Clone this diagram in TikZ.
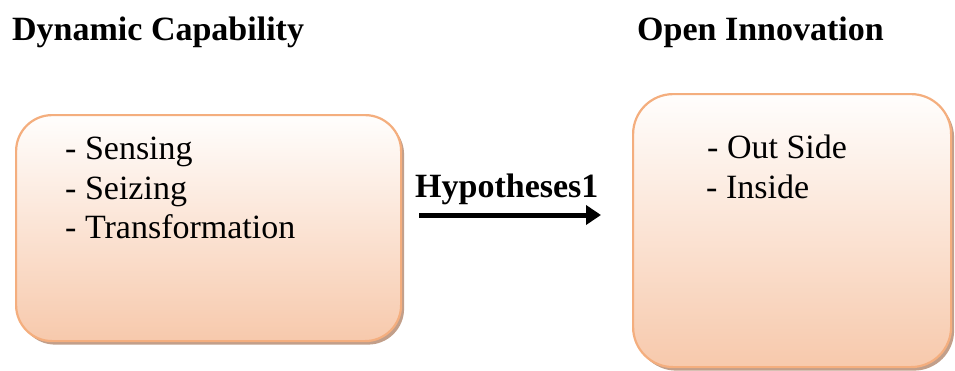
\documentclass[tikz,border=0pt]{standalone}
\usepackage{fontspec}
\setmainfont{Liberation Serif}
\usetikzlibrary{shadows,arrows.meta}
\definecolor{boxline}{HTML}{F4AE7E}
\definecolor{boxtop}{HTML}{FFFEFD}
\definecolor{boxbot}{HTML}{F7C9AC}
\definecolor{boxshadow}{HTML}{C29F8A}
\tikzset{
  capbox/.style={draw=boxline, line width=2.2pt, rounded corners=36pt,
    top color=boxtop, bottom color=boxbot, inner sep=0pt, anchor=north west,
    drop shadow={shadow xshift=3pt, shadow yshift=-3.5pt, fill=boxshadow, opacity=1}},
  item/.style={anchor=base west, inner sep=0pt, font=\fontsize{34}{40}\selectfont},
  title/.style={anchor=base west, inner sep=0pt, font=\fontsize{34}{40}\selectfont\bfseries},
  bigarrow/.style={line width=5pt, -{Triangle[length=15pt,width=19pt]}}
}
\begin{document}
\begin{tikzpicture}
\useasboundingbox (0pt,0pt) rectangle (955pt,-370pt);
\node[title] (t1) at (12pt,-40pt) {Dynamic Capability};
\node[title] (t2) at (637pt,-40pt) {Open Innovation};
\node[capbox, minimum width=385pt, minimum height=226pt] (dc) at (15pt,-114pt) {};
\node[capbox, minimum width=318pt, minimum height=273pt, rounded corners=40pt] (oi) at (632pt,-93pt) {};
\node[item] (d1) at (65pt,-159pt) {- Sensing};
\node[item] (d2) at (65pt,-199pt) {- Seizing};
\node[item] (d3) at (65pt,-238pt) {- Transformation};
\node[item] (o1) at (707pt,-158pt) {- Out Side};
\node[item] (o2) at (706pt,-198pt) {- Inside};
\node[title] (h) at (415pt,-197pt) {Hypotheses1};
\coordinate (hs) at (419pt,-215pt);
\coordinate (he) at (601pt,-215pt);
\draw[bigarrow] (hs) -- (he);
\end{tikzpicture}
\end{document}
